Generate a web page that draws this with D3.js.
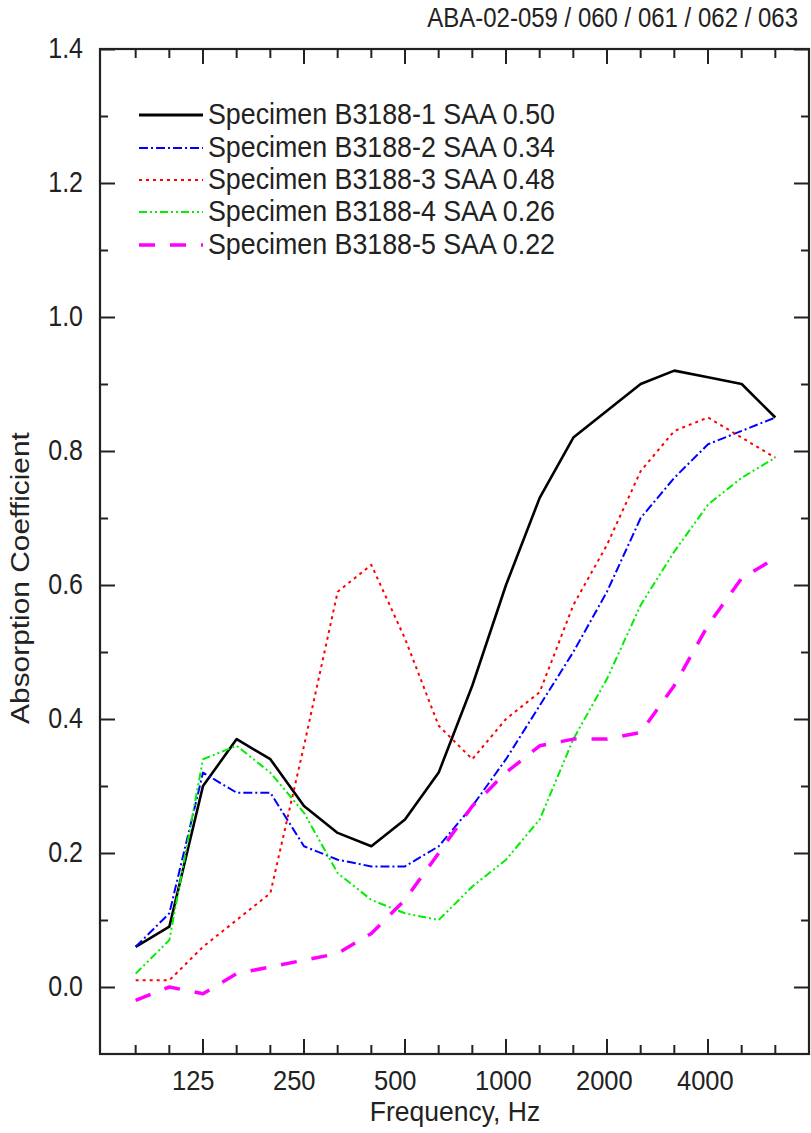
<!DOCTYPE html>
<html>
<head>
<meta charset="utf-8">
<script src="https://cdn.jsdelivr.net/npm/d3@7/dist/d3.min.js"></script>
<style>
  html, body { margin: 0; padding: 0; background: #fff; }
  svg { display: block; }
  text { font-family: "Liberation Sans", Arial, sans-serif; fill: #222; }
</style>
</head>
<body>
<svg id="chart" width="811" height="1133"></svg>
<script>
// ---------------- data ----------------
const freqs = [80, 100, 125, 160, 200, 250, 315, 400, 500, 630, 800, 1000, 1250, 1600, 2000, 2500, 3150, 4000, 5000, 6300];
const labelFreqs = [125, 250, 500, 1000, 2000, 4000];
const yMajorTicks = [0.0, 0.2, 0.4, 0.6, 0.8, 1.0, 1.2, 1.4];
const yMinorTicks = [0.1, 0.3, 0.5, 0.7, 0.9, 1.1, 1.3];

const specimen1 = [0.06, 0.09, 0.30, 0.37, 0.34, 0.27, 0.23, 0.21, 0.25, 0.32, 0.45, 0.60, 0.73, 0.82, 0.86, 0.90, 0.92, 0.91, 0.90, 0.85];
const specimen2 = [0.06, 0.11, 0.32, 0.29, 0.29, 0.21, 0.19, 0.18, 0.18, 0.21, 0.27, 0.34, 0.42, 0.50, 0.59, 0.70, 0.76, 0.81, 0.83, 0.85];
const specimen3 = [0.01, 0.01, 0.06, 0.10, 0.14, 0.36, 0.59, 0.63, 0.52, 0.39, 0.34, 0.40, 0.44, 0.57, 0.66, 0.77, 0.83, 0.85, 0.82, 0.79];
const specimen4 = [0.02, 0.07, 0.34, 0.36, 0.32, 0.26, 0.17, 0.13, 0.11, 0.10, 0.15, 0.19, 0.25, 0.37, 0.46, 0.57, 0.65, 0.72, 0.76, 0.79];
const specimen5 = [-0.02, 0.00, -0.01, 0.02, 0.03, 0.04, 0.05, 0.08, 0.13, 0.20, 0.27, 0.32, 0.36, 0.37, 0.37, 0.38, 0.45, 0.54, 0.61, 0.64];

const seriesNames = [
  "Specimen B3188-1 SAA 0.50",
  "Specimen B3188-2 SAA 0.34",
  "Specimen B3188-3 SAA 0.48",
  "Specimen B3188-4 SAA 0.26",
  "Specimen B3188-5 SAA 0.22"
];
const seriesValues = [specimen1, specimen2, specimen3, specimen4, specimen5];
const seriesColors = ["#000000", "#0000ff", "#ff0000", "#00ee00", "#ff00ff"];
const seriesDash = [null, "9,3,2,3", "3,4", "8,3,2,3,2,3", "16,15"];
const seriesWidth = [2.6, 2, 2, 2, 3.5];
const titleText = "ABA-02-059 / 060 / 061 / 062 / 063";

// ---------------- layout ----------------
const L = 100, R = 809, T = 49, B = 1054;
const svg = d3.select("#chart");

// exact 1/3-octave band centre for a nominal frequency
const band = f => 1000 * Math.pow(2, Math.round(3 * Math.log2(f / 1000)) / 3);
const x = d3.scaleLog().domain([125, 4000]).range([203, 708]);
const y = d3.scaleLinear().domain([-0.1, 1.4]).range([B, T]);
const xb = f => x(band(f));

// ticks (inward) on all four sides
const minorF = freqs.filter(f => !labelFreqs.includes(f));
function xTicks(vals, len, g, dir) {
  g.selectAll(null).data(vals).enter().append("line")
    .attr("x1", d => xb(d)).attr("x2", d => xb(d))
    .attr("y1", 0).attr("y2", dir * len)
    .attr("stroke", "#222").attr("stroke-width", 2);
}
const gBot = svg.append("g").attr("transform", `translate(0,${B})`);
xTicks(labelFreqs, 15, gBot, -1); xTicks(minorF, 9, gBot, -1);
const gTop = svg.append("g").attr("transform", `translate(0,${T})`);
xTicks(labelFreqs, 15, gTop, 1); xTicks(minorF, 9, gTop, 1);

function yTicks(axisFn, pos, vals, len) {
  svg.append("g").attr("transform", `translate(${pos},0)`)
    .call(axisFn(y).tickValues(vals).tickSize(len).tickFormat(""))
    .call(g => g.select(".domain").remove())
    .call(g => g.selectAll("line").attr("stroke", "#222").attr("stroke-width", 2));
}
yTicks(d3.axisRight, L, yMajorTicks, 15);
yTicks(d3.axisRight, L, yMinorTicks, 8);
yTicks(d3.axisLeft, R, yMajorTicks, 15);
yTicks(d3.axisLeft, R, yMinorTicks, 8);

// frame
svg.append("rect").attr("x", L).attr("y", T).attr("width", R - L).attr("height", B - T)
  .attr("fill", "none").attr("stroke", "#222").attr("stroke-width", 2.2);

// text helper with vertical stretch
function txt(str, tx, ty, size, anchor, sy, rot) {
  return svg.append("text")
    .attr("transform", `translate(${tx},${ty}) scale(1,${sy})` + (rot ? ` rotate(${rot})` : ""))
    .attr("text-anchor", anchor).attr("font-size", size).text(str);
}

// y labels
yMajorTicks.forEach(v => txt(v.toFixed(1), 83, y(v) + 9, 25, "end", 1.15));
// x labels
labelFreqs.forEach(f => txt(String(f), xb(f) - 31, 1090, 25.5, "start", 1.05));

// axis titles
txt("Frequency, Hz", 455, 1121, 26.5, "middle", 1.05);
txt("Absorption Coefficient", 29, 578, 26, "middle", 1.15, -90);
// top-right title
txt(titleText, 798, 27, 24, "end", 1.12);

// series lines
const line = d3.line().x(d => xb(d[0])).y(d => y(d[1]));
seriesValues.forEach((vals, i) => {
  svg.append("path")
    .datum(freqs.map((f, k) => [f, vals[k]]))
    .attr("d", line)
    .attr("fill", "none")
    .attr("stroke", seriesColors[i])
    .attr("stroke-width", seriesWidth[i])
    .attr("stroke-dasharray", seriesDash[i])
    .attr("stroke-linejoin", "round");
});

// legend
const legY = [115, 148, 180, 212, 245];
seriesNames.forEach((name, i) => {
  svg.append("line")
    .attr("x1", 139).attr("x2", 203).attr("y1", legY[i]).attr("y2", legY[i])
    .attr("stroke", seriesColors[i])
    .attr("stroke-width", i === 0 ? 3.2 : seriesWidth[i])
    .attr("stroke-dasharray", seriesDash[i]);
  txt(name, 208, legY[i] + 8.5, 26.8, "start", 1.1);
});
</script>
</body>
</html>
